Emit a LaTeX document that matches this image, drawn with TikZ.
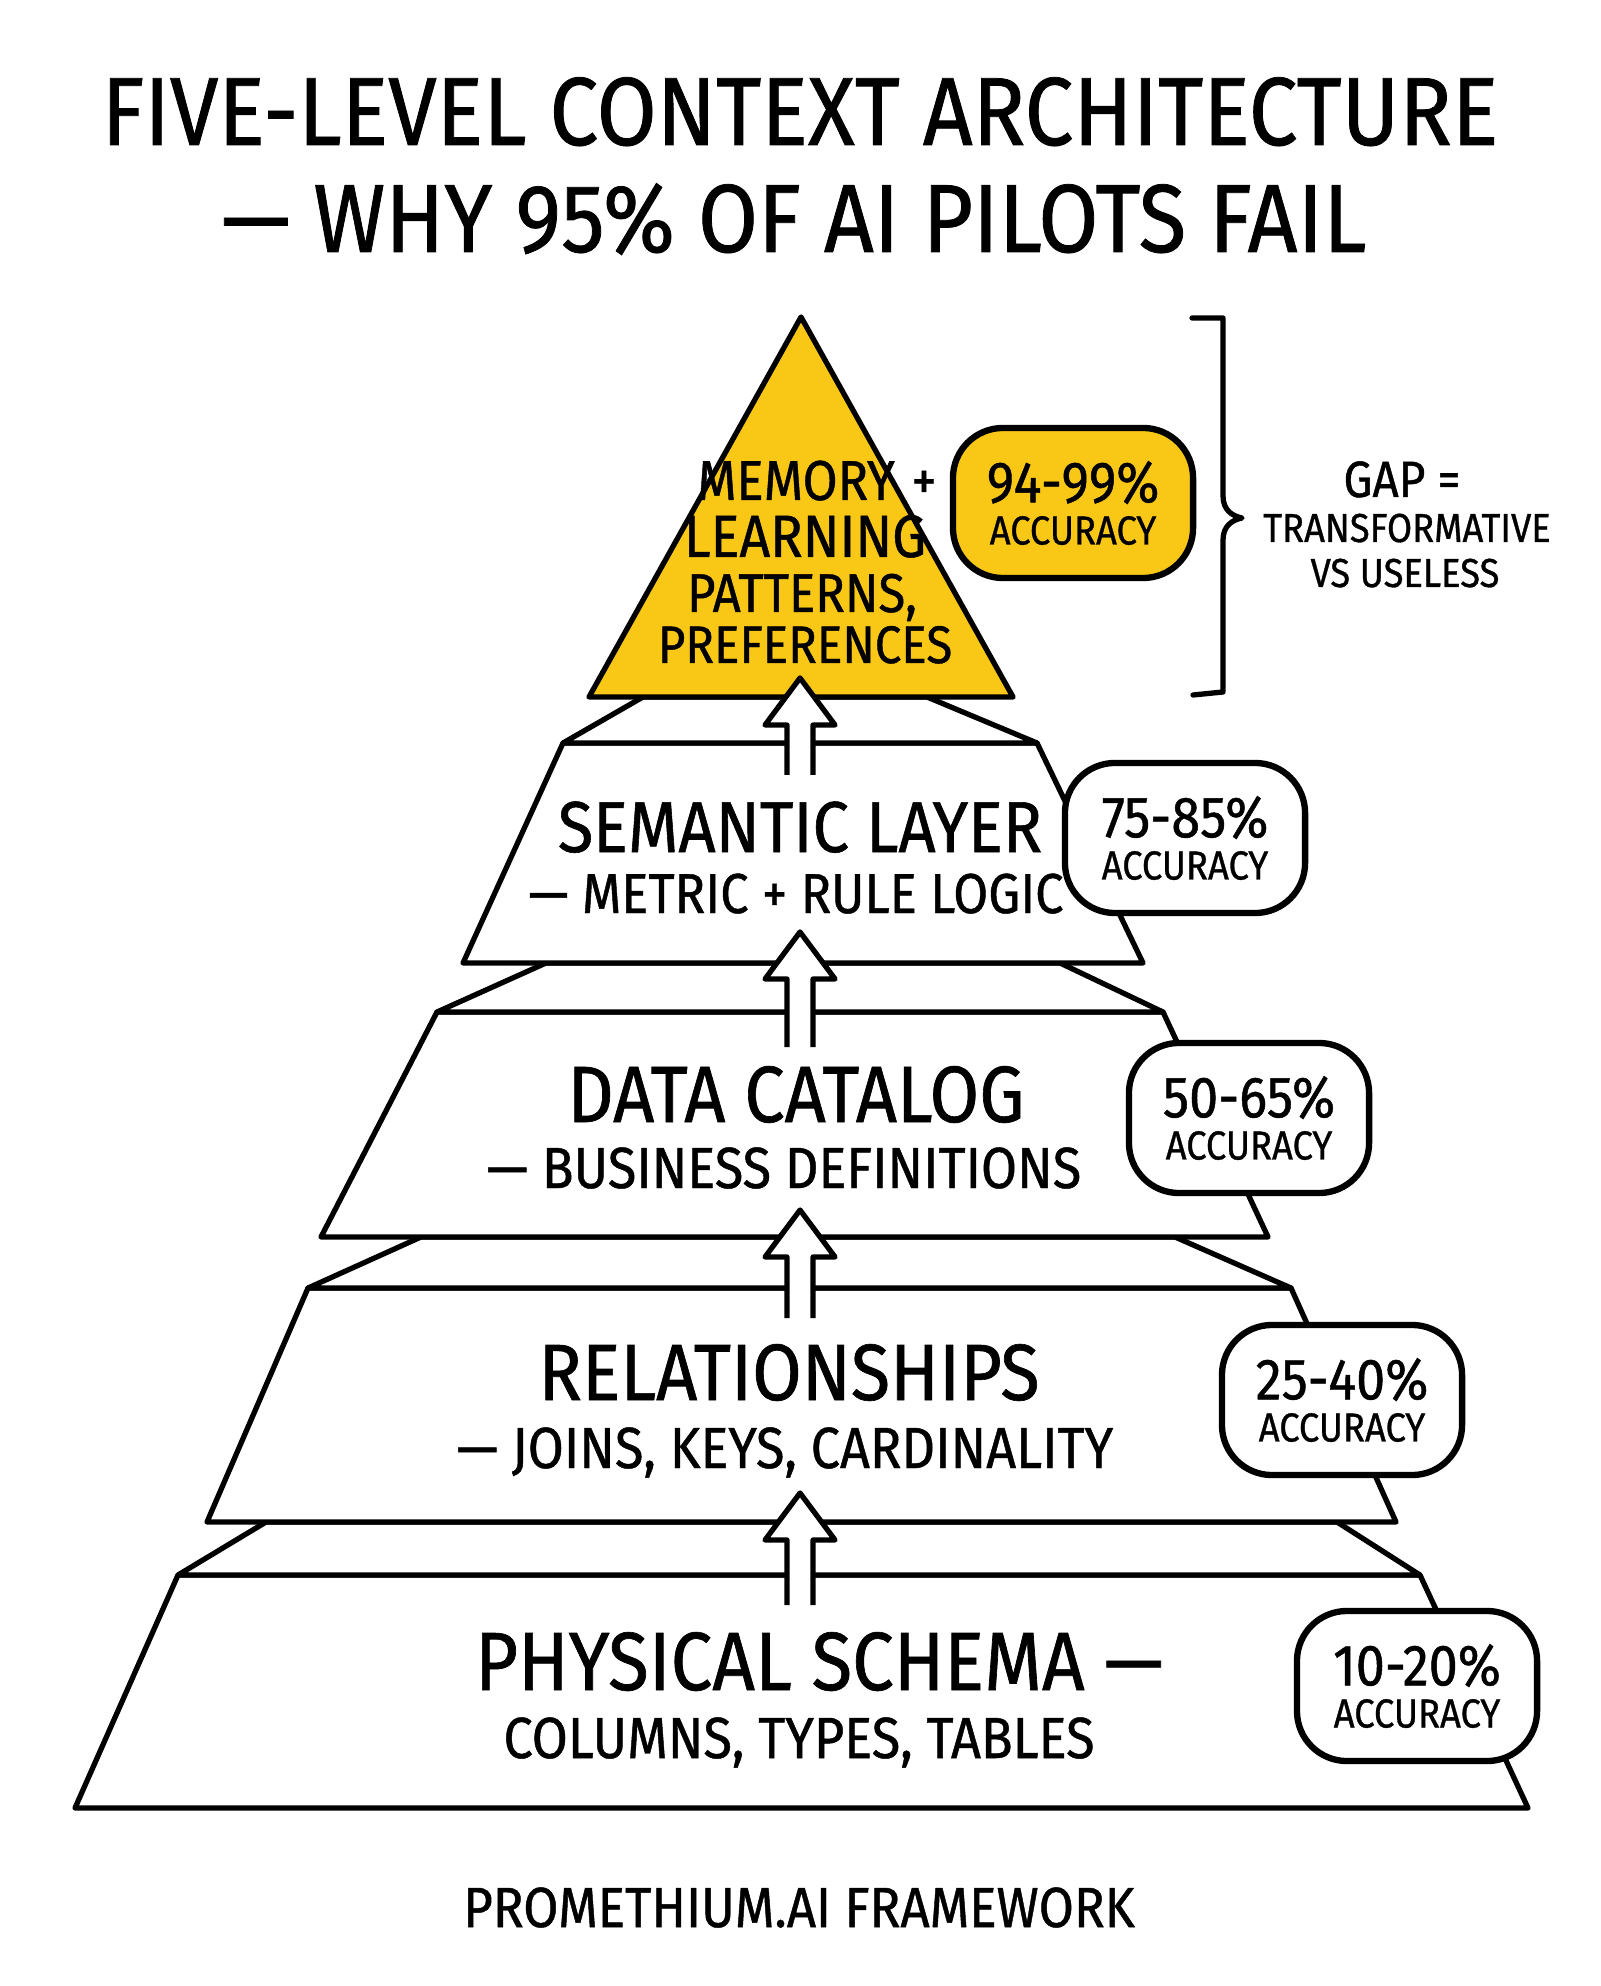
\documentclass[tikz,border=0pt]{standalone}
\usepackage{fontspec}
\setmainfont{Fira Sans}[FakeStretch=0.9,FakeBold=0.8]
\usepackage{tikz}
\usetikzlibrary{calc}
\definecolor{gold}{HTML}{F9C715}
\newcommand{\fs}[1]{\fontsize{#1}{1.15\dimexpr#1pt\relax}\selectfont}
\newcommand{\acc}[1]{{\fs{16.5}#1}\\{\fs{11.5}ACCURACY}}
% hollow arrow from a foot coordinate up to a tip coordinate
\newcommand{\liftarrow}[2]{%
  \filldraw[lift] ($(#1)+(-13,0)$) -- ($(#2)+(-13,47)$) -- ($(#2)+(-35,47)$)
    -- (#2) -- ($(#2)+(35,47)$) -- ($(#2)+(13,47)$) -- ($(#1)+(13,0)$);}
\tikzset{
  block/.style={draw,line width=1.5pt,line join=round,fill=white},
  lift/.style={draw,line width=1.5pt,line join=round,fill=white},
  title/.style={font=\fs{27.5},inner sep=0pt,anchor=base},
  head/.style={inner sep=0pt,anchor=base},
  sub/.style={font=\fs{16.5},inner sep=0pt,anchor=base},
  peak/.style={inner sep=0pt,anchor=base},
  badge/.style={draw,line width=1.8pt,rounded corners=0.5cm,fill=white,
    minimum width=2.4cm,minimum height=1.5cm,align=center,inner sep=0pt},
  goldbadge/.style={badge,fill=gold},
  gap/.style={inner sep=0pt,anchor=base},
  brace/.style={draw,line width=1.5pt,line join=round,line cap=round}
}
\begin{document}
\begin{tikzpicture}[x=0.01cm,y=-0.01cm]
  \useasboundingbox[fill=white] (0,0) rectangle (1600,1986);

  \node[title] (t1) at (800,145) {FIVE-LEVEL CONTEXT ARCHITECTURE};
  \node[title] (t2) at (794,252) {— WHY 95\% OF AI PILOTS FAIL};

  % pyramid, bottom level first
  \draw[block] (178,1575) -- (1420,1575) -- (1528,1808) -- (75,1808) -- cycle;
  \draw[block] (266,1522) -- (1337,1522) -- (1420,1575) -- (178,1575) -- cycle;
  \draw[block] (308,1288) -- (1291,1288) -- (1396,1522) -- (207,1522) -- cycle;
  \draw[block] (421,1237) -- (1175,1237) -- (1291,1288) -- (308,1288) -- cycle;
  \draw[block] (437,1012) -- (1163,1012) -- (1268,1237) -- (321,1237) -- cycle;
  \draw[block] (546,963) -- (1060,963) -- (1163,1012) -- (437,1012) -- cycle;
  \draw[block] (563,743) -- (1037,743) -- (1143,963) -- (463,963) -- cycle;
  \draw[block] (643,697) -- (927,697) -- (1037,743) -- (563,743) -- cycle;
  \draw[block,fill=gold] (801,317) -- (1013,697) -- (589,697) -- cycle;

  \coordinate (tip1) at (800,678);  \coordinate (foot1) at (800,775);
  \coordinate (tip2) at (800,932);  \coordinate (foot2) at (800,1047);
  \coordinate (tip3) at (800,1210); \coordinate (foot3) at (800,1318);
  \coordinate (tip4) at (800,1493); \coordinate (foot4) at (800,1605);
  \liftarrow{foot1}{tip1}
  \liftarrow{foot2}{tip2}
  \liftarrow{foot3}{tip3}
  \liftarrow{foot4}{tip4}

  % level texts
  \node[peak,font=\fs{16}] (mem) at (796,500) {MEMORY};
  \node[peak,font=\fs{16}] (plus) at (924,500) {+};
  \node[peak,font=\fs{17}] (learn) at (805,557) {LEARNING};
  \node[peak,font=\fs{15.5}] (patt) at (802,612) {PATTERNS,};
  \node[peak,font=\fs{15}] (pref) at (805,663) {PREFERENCES};
  \node[head,font=\fs{20.5}] (sem) at (800,852) {SEMANTIC LAYER};
  \node[sub,font=\fs{16}] (semsub) at (796,913) {— METRIC + RULE LOGIC};
  \node[head,font=\fs{22.7}] (cat) at (796,1122) {DATA CATALOG};
  \node[sub] (catsub) at (784,1188) {— BUSINESS DEFINITIONS};
  \node[head,font=\fs{22.7}] (rel) at (789,1400) {RELATIONSHIPS};
  \node[sub] (relsub) at (785,1468) {— JOINS, KEYS, CARDINALITY};
  \node[head,font=\fs{23.5}] (phys) at (819,1690) {PHYSICAL SCHEMA —};
  \node[sub] (physsub) at (799,1758) {COLUMNS, TYPES, TABLES};

  % accuracy badges
  \node[goldbadge] (acc1) at (1073,503) {\acc{94-99\%}};
  \node[badge] (acc2) at (1185,838) {\acc{75-85\%}};
  \node[badge] (acc3) at (1249,1118) {\acc{50-65\%}};
  \node[badge] (acc4) at (1342,1400) {\acc{25-40\%}};
  \node[badge] (acc5) at (1417,1686) {\acc{10-20\%}};

  % gap brace
  \draw[brace] (1192,318) -- (1223,318) -- (1223,496)
    .. controls (1223,510) and (1232,516) .. (1242,518)
    .. controls (1232,520) and (1223,526) .. (1223,540)
    -- (1223,692) -- (1193,695);
  \node[gap,font=\fs{14.5}] (gap1) at (1402,497) {GAP =};
  \node[gap,font=\fs{11.5}] (gap2) at (1407,542) {TRANSFORMATIVE};
  \node[gap,font=\fs{11.5}] (gap3) at (1405,587) {VS USELESS};

  \node[head,font=\fs{16.1}] (brand) at (799,1927) {PROMETHIUM.AI FRAMEWORK};
\end{tikzpicture}
\end{document}
